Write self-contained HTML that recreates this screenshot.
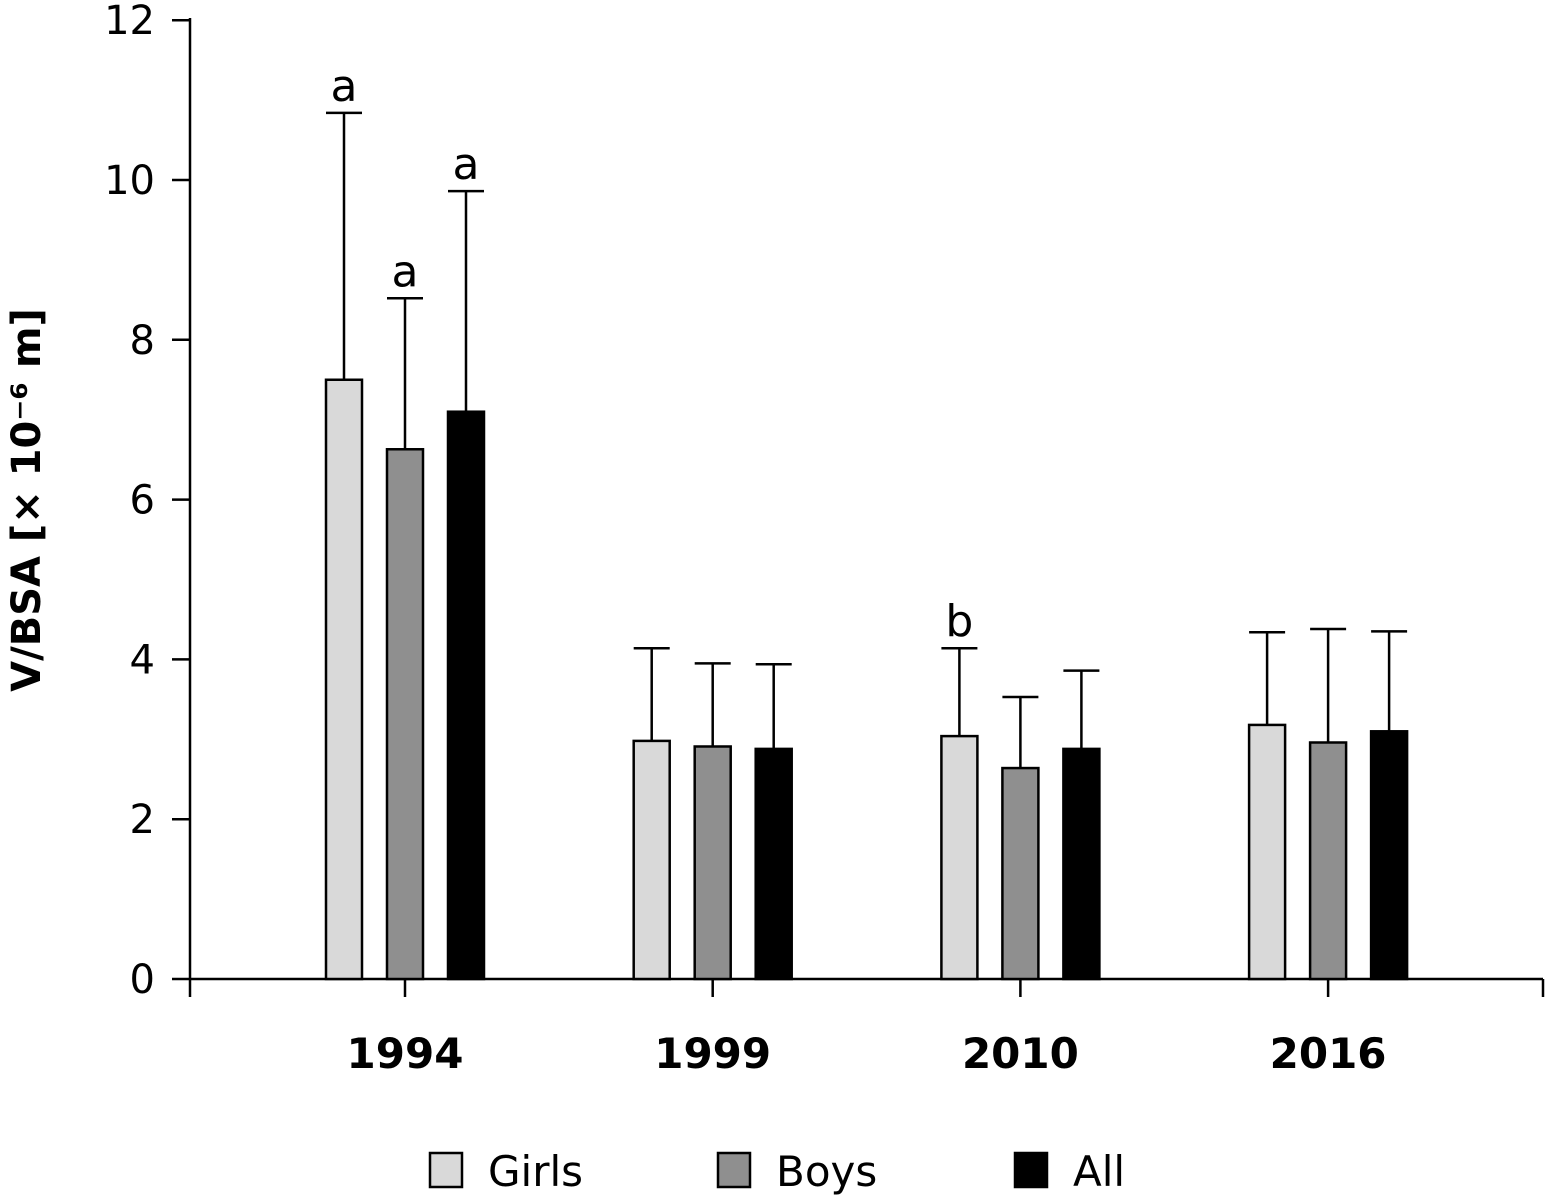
<!DOCTYPE html>
<html><head><meta charset="utf-8"><style>
body{margin:0;background:#fff}
svg{display:block;font-family:"DejaVu Sans","Liberation Sans",sans-serif}
</style></head><body>
<svg id="chart" width="1550" height="1201">
<g id="axes"></g><g id="bars"></g>
<text transform="translate(40,500) rotate(-90)" text-anchor="middle" font-size="40" font-weight="bold">V/BSA [× 10⁻⁶ m]</text>
<g font-size="42">
<rect x="430" y="1153" width="32" height="34" fill="#d9d9d9" stroke="#000" stroke-width="2.5"/>
<text x="488" y="1186">Girls</text>
<rect x="718" y="1153" width="32" height="34" fill="#8f8f8f" stroke="#000" stroke-width="2.5"/>
<text x="776" y="1186">Boys</text>
<rect x="1015" y="1153" width="32" height="34" fill="#000" stroke="#000" stroke-width="2.5"/>
<text x="1073" y="1186">All</text>
</g>
</svg>
<script>
const categories=["1994","1999","2010","2016"];
const seriesNames=["Girls","Boys","All"];
const girls=[7.5,2.98,3.04,3.18];
const boys=[6.63,2.91,2.64,2.96];
const all=[7.1,2.88,2.88,3.1];
const girlsErr=[10.84,4.14,4.14,4.34];
const boysErr=[8.52,3.95,3.53,4.38];
const allErr=[9.86,3.94,3.86,4.35];
const sigLabels=[["a","a","a"],["","",""],["b","",""],["","",""]];
const yTicks=[0,2,4,6,8,10,12];

const NS="http://www.w3.org/2000/svg";
const y=v=>979-v*79.9;
const x=i=>405+i*307.7;
const fills=["#d9d9d9","#8f8f8f","#000"];
const vals=[girls,boys,all], errs=[girlsErr,boysErr,allErr];
function mk(t,a,p){const e=document.createElementNS(NS,t);for(const k in a)e.setAttribute(k,a[k]);p.appendChild(e);return e;}
const ax=document.getElementById('axes'), bg=document.getElementById('bars');
let e=mk('line',{x1:190,y1:18,x2:190,y2:979,stroke:'#000','stroke-width':2.5},ax);

e=mk('line',{x1:190,y1:979,x2:1543,y2:979,stroke:'#000','stroke-width':2.5},ax);

[190,1543].forEach(xx=>{mk('line',{x1:xx,y1:979,x2:xx,y2:997,stroke:'#000','stroke-width':2.5},ax);});
yTicks.forEach(t=>{
  mk('line',{x1:172,y1:y(t),x2:190,y2:y(t),stroke:'#000','stroke-width':2.5},ax);
  const tx=mk('text',{x:155,y:y(t)+14,'text-anchor':'end','font-size':40},ax);tx.textContent=t;
  
  
});
categories.forEach((c,i)=>{
  mk('line',{x1:x(i),y1:979,x2:x(i),y2:997,stroke:'#000','stroke-width':2.5},ax);
  const tx=mk('text',{x:x(i),y:1068,'text-anchor':'middle','font-size':42,'font-weight':'bold'},ax);tx.textContent=c;
  
  
  for(let s=0;s<3;s++){
    const cx=x(i)+(s-1)*61;
    const v=vals[s][i], ev=errs[s][i];
    mk('line',{x1:cx,y1:y(ev),x2:cx,y2:y(v),stroke:'#000','stroke-width':2.5},bg);
    mk('line',{x1:cx-18,y1:y(ev),x2:cx+18,y2:y(ev),stroke:'#000','stroke-width':2.5},bg);
    const r=mk('rect',{x:cx-18,y:y(v),width:36,height:979-y(v),fill:fills[s],stroke:'#000','stroke-width':2.5},bg);
    
    
    const L=sigLabels[i][s];
    if(L){const lt=mk('text',{x:cx,y:y(ev)-12,'text-anchor':'middle','font-size':44},bg);lt.textContent=L;
      
      }
  }
});
</script>
</body></html>
